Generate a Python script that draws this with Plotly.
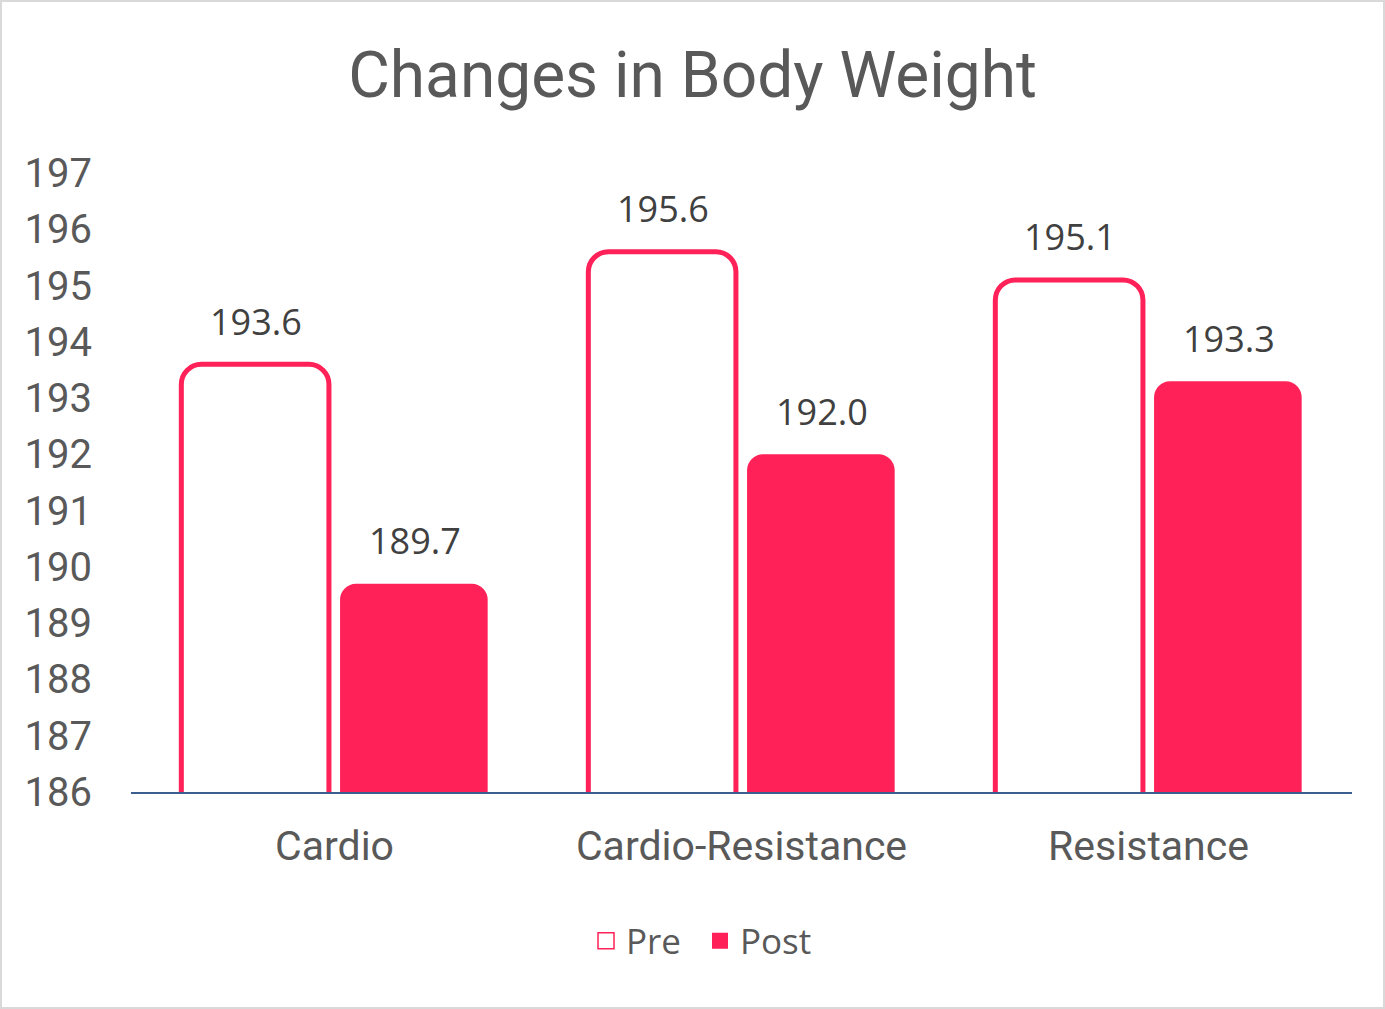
import plotly.graph_objects as go

categories = ["Cardio", "Cardio-Resistance", "Resistance"]
pre_values = [193.6, 195.6, 195.1]
post_values = [189.7, 192.0, 193.3]
series_names = ["Pre", "Post"]
y_ticks = list(range(186, 198))
y_min, y_max = 186, 197

PINK = "#FF2157"
TEXT = "#595959"
LABEL = "#404040"

W, H = 1385, 1009
L, R, T, B = 131, 33, 173, 217
PW, PH = W - L - R, H - T - B

fig = go.Figure()
fig.add_trace(go.Bar(
    x=categories, y=pre_values, name=series_names[0],
    marker=dict(color="white", line=dict(color=PINK, width=5), cornerradius=20),
    showlegend=False,
))
fig.add_trace(go.Bar(
    x=categories, y=post_values, name=series_names[1],
    marker=dict(color=PINK, line=dict(width=0), cornerradius=16),
    showlegend=False,
))
# legend entries
fig.add_trace(go.Scatter(
    x=[None], y=[None], mode="markers", name=series_names[0],
    marker=dict(symbol="square", size=16, color="white", line=dict(color=PINK, width=1.5)),
))
fig.add_trace(go.Scatter(
    x=[None], y=[None], mode="markers", name=series_names[1],
    marker=dict(symbol="square", size=16, color=PINK, line=dict(width=0)),
))

for cat, v in zip(categories, pre_values):
    fig.add_annotation(x=cat, y=v, text=f"{v:.1f}", showarrow=False, xref="x", yref="y",
                       xshift=-79, yshift=43, yanchor="middle",
                       font=dict(family="Open Sans", size=36, color=LABEL))
for cat, v in zip(categories, post_values):
    fig.add_annotation(x=cat, y=v, text=f"{v:.1f}", showarrow=False, xref="x", yref="y",
                       xshift=80, yshift=43, yanchor="middle",
                       font=dict(family="Open Sans", size=36, color=LABEL))

# outer chart border
fig.add_shape(type="rect", xref="paper", yref="paper",
              x0=(1 - L) / PW, x1=(W - 1 - L) / PW,
              y0=-(B - 1) / PH, y1=(PH + T - 1) / PH,
              line=dict(color="#D9D9D9", width=2), fillcolor="rgba(0,0,0,0)", layer="below")

fig.update_layout(
    width=W, height=H,
    margin=dict(l=L, r=R, t=T, b=B, pad=0),
    paper_bgcolor="white", plot_bgcolor="white",
    barmode="group", bargap=0.22, bargroupgap=0.07,
    title=dict(text="Changes in Body Weight", x=0.5, xanchor="center",
               y=1 - 75 / H, yanchor="middle",
               font=dict(family="Roboto", size=64, color=TEXT)),
    xaxis=dict(showline=True, linecolor="#3A5F8E", linewidth=2, showgrid=False,
               ticks="", ticklabelstandoff=17,
               tickfont=dict(family="Roboto", size=41, color=TEXT)),
    yaxis=dict(range=[y_min, y_max], tickvals=y_ticks, showgrid=False, zeroline=False,
               showline=False, ticks="", ticklabelstandoff=38,
               tickfont=dict(family="Roboto", size=40, color=TEXT)),
    legend=dict(orientation="h", x=(700 - L) / PW, xanchor="center",
                y=(H - B - 941) / PH, yanchor="middle",
                font=dict(family="Open Sans", size=35, color=TEXT),
                itemwidth=30, tracegroupgap=0,
                entrywidth=69, entrywidthmode="pixels"),
)

fig.write_html("out.html", post_script="document.body.style.margin='0';",
               config={"displayModeBar": False})
